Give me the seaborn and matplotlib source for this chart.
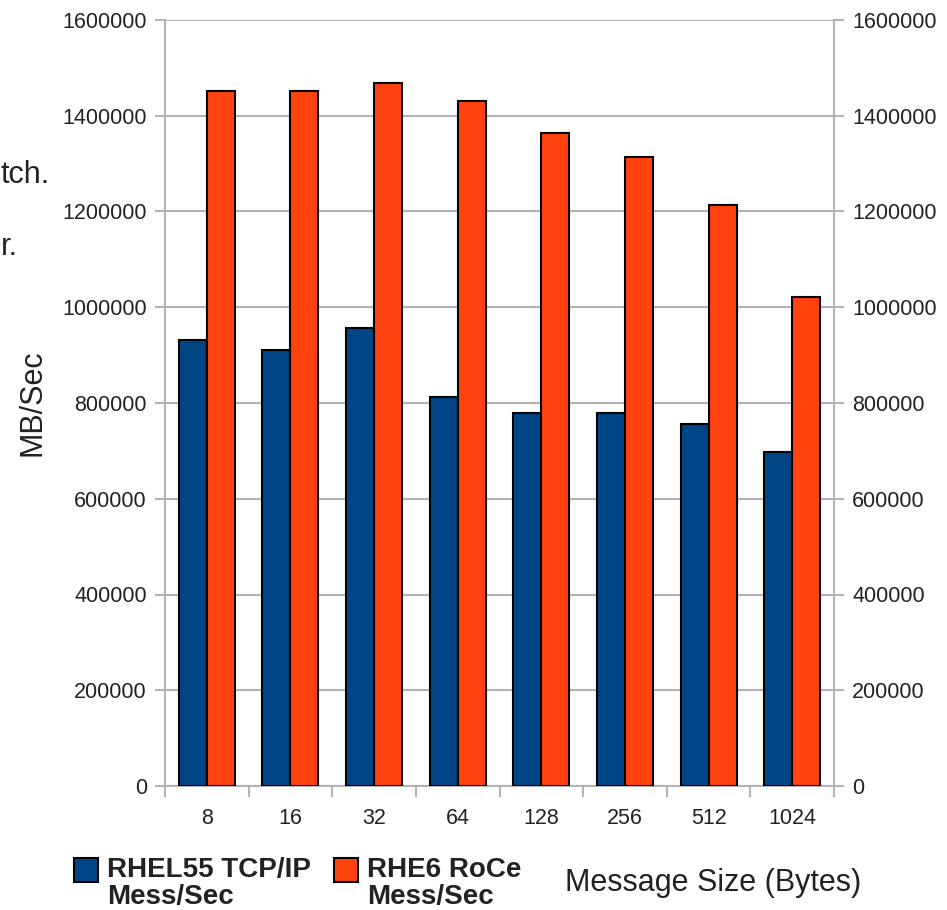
import numpy as np
import pandas as pd
import seaborn as sns
import matplotlib.pyplot as plt
from matplotlib.patches import Patch, Rectangle
from matplotlib.legend_handler import HandlerPatch

# message sizes (bytes) and throughput per setup
sizes = ["8", "16", "32", "64", "128", "256", "512", "1024"]
tcp_ip = [931000, 910000, 956000, 812000, 780000, 780000, 757000, 698000]
roce = [1451000, 1451000, 1468000, 1431000, 1363000, 1313000, 1213000, 1021000]
series = ["RHEL55 TCP/IP\nMess/Sec", "RHE6 RoCe\nMess/Sec"]
colors = ["#004586", "#ff420e"]
yticks = list(range(0, 1600001, 200000))

df = pd.DataFrame({
    "size": sizes * 2,
    "value": tcp_ip + roce,
    "series": [series[0]] * len(sizes) + [series[1]] * len(sizes),
})

sns.set_style("white")
plt.rcParams['font.family'] = ['Liberation Sans', 'DejaVu Sans']

fig = plt.figure(figsize=(9.47, 9.1), dpi=100)
ax = fig.add_axes([165 / 947, 1 - 786 / 910, 669 / 947, 766 / 910])

sns.barplot(data=df, x="size", y="value", hue="series", palette=colors,
            saturation=1, width=0.67, edgecolor="black", linewidth=1.5,
            legend=False, zorder=3, ax=ax)

grid_c = "#b3b3b3"
ax.set_ylim(0, 1600000)
ax.set_xlim(-0.5, len(sizes) - 0.5)
ax.set_yticks(yticks)
ax.set_yticklabels([str(t) for t in yticks])
ax.yaxis.grid(True, color=grid_c, linewidth=1.5, zorder=0)
ax.set_axisbelow(True)
ax.tick_params(axis='y', which='major', left=True, right=True, labelleft=True,
               labelright=True, length=7, width=1.5, color=grid_c,
               labelsize=15.5, labelcolor="#222222", pad=6)

# x ticks: labels at centers, tick marks at group boundaries
ax.set_xticks(np.arange(len(sizes)))
ax.set_xticklabels(sizes)
ax.set_xticks(np.arange(len(sizes) + 1) - 0.5, minor=True)
ax.tick_params(axis='x', which='major', length=0, labelsize=15.5,
               labelcolor="#222222", pad=16)
ax.tick_params(axis='x', which='minor', bottom=True, length=8, width=1.5,
               color=grid_c)

for side in ["left", "right", "bottom"]:
    ax.spines[side].set_color(grid_c)
    ax.spines[side].set_linewidth(1.5)
ax.spines["top"].set_visible(False)

ax.set_ylabel("MB/Sec", fontsize=22, color="#222222")
ax.yaxis.set_label_coords(-0.176, 0.5)
ax.set_xlabel("Message Size (Bytes)", fontsize=22, color="#222222")
ax.xaxis.set_label_coords(0.82, -0.107)


def top_square(legend, orig_handle, xdescent, ydescent, width, height, fontsize):
    # square handle sitting next to the first line of a two-line label
    return Rectangle((-xdescent, -ydescent + height - width), width, width)


handles = [Patch(facecolor=c, edgecolor="black", linewidth=1.5) for c in colors]
leg = fig.legend(handles, series, loc="upper left", bbox_to_anchor=(0.052, 0.086),
                 ncol=2, frameon=False, handlelength=0.86, handleheight=2.6,
                 handletextpad=0.32, columnspacing=0.83, labelspacing=0.2,
                 handler_map={Patch: HandlerPatch(patch_func=top_square)},
                 prop={"size": 20, "weight": "bold"})
for t in leg.get_texts():
    t.set_color("#222222")
    t.set_linespacing(1.08)

# cropped fragments of a neighbouring text box at the left edge
fig.text(0.001, 1 - 175 / 910, "tch.", fontsize=22, va="center", color="#222222")
fig.text(0.001, 1 - 247 / 910, "r.", fontsize=22, va="center", color="#222222")

fig.savefig("out.png", dpi=100)
